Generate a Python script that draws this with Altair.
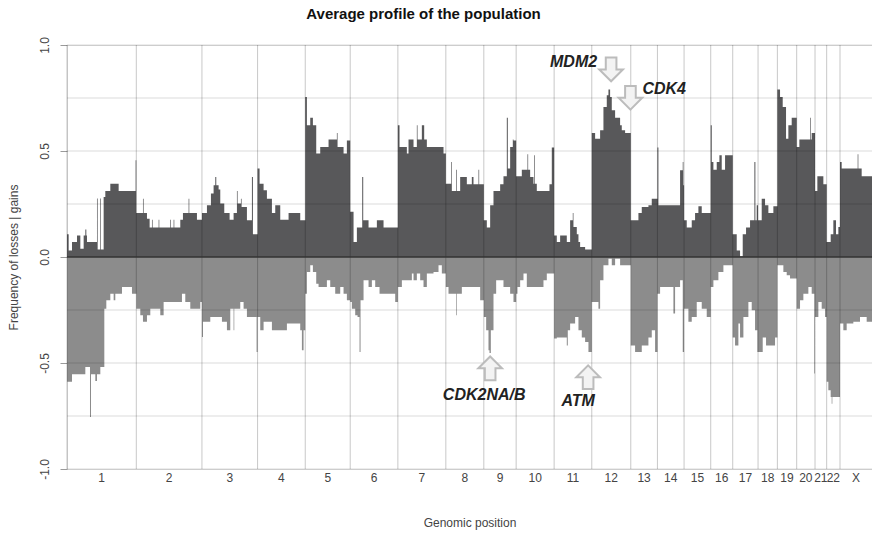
import altair as alt
import pandas as pd

# Chromosomes along the genome axis; lengths are in position bins
CHROMS = ["1", "2", "3", "4", "5", "6", "7", "8", "9", "10", "11", "12",
          "13", "14", "15", "16", "17", "18", "19", "20", "21", "22", "X"]
CHROM_LEN = [208, 197, 167, 143, 135, 143, 144, 114, 97, 114, 113, 117,
             80, 80, 80, 66, 76, 58, 58, 55, 35, 40, 96]

# Gain frequency profiles: (bin offset within chromosome, frequency) steps
GAIN_1 = [(0, 0.107), (5, 0.031), (15, 0.071), (30, 0.102), (40, 0.039), (50, 0.102),
          (55, 0.13), (58, 0.102), (60, 0.071), (90, 0.276), (92, 0.035), (100, 0.276),
          (102, 0.035), (110, 0.283), (115, 0.311), (130, 0.346), (155, 0.311), (206, 0.456)]
GAIN_2 = [(0, 0.208), (20, 0.275), (22, 0.208), (32, 0.181), (40, 0.139), (47, 0.176),
          (49, 0.139), (67, 0.176), (69, 0.139), (102, 0.176), (104, 0.139), (112, 0.176),
          (114, 0.139), (132, 0.176), (140, 0.208), (157, 0.275), (159, 0.208), (182, 0.176)]
GAIN_3 = [(0, 0.208), (15, 0.244), (27, 0.299), (35, 0.338), (40, 0.377), (43, 0.338),
          (50, 0.318), (55, 0.252), (67, 0.208), (83, 0.176), (95, 0.208), (105, 0.311),
          (107, 0.252), (117, 0.275), (119, 0.236), (135, 0.173), (150, 0.377), (153, 0.107)]
GAIN_4 = [(0, 0.417), (6, 0.346), (18, 0.315), (28, 0.275), (43, 0.208), (53, 0.244),
          (68, 0.176), (93, 0.208), (128, 0.173)]
GAIN_5 = [(0, 0.755), (5, 0.621), (15, 0.657), (23, 0.621), (33, 0.488), (45, 0.519),
          (70, 0.554), (95, 0.585), (97, 0.519), (115, 0.488), (125, 0.55)]
GAIN_6 = [(0, 0.213), (10, 0.071), (20, 0.139), (36, 0.377), (39, 0.173), (55, 0.139),
          (80, 0.173), (100, 0.139)]
GAIN_7 = [(0, 0.621), (5, 0.519), (27, 0.488), (32, 0.554), (47, 0.519), (57, 0.621),
          (59, 0.554), (72, 0.621), (79, 0.554), (87, 0.519), (137, 0.488)]
GAIN_8 = [(0, 0.346), (16, 0.448), (18, 0.311), (31, 0.412), (33, 0.311), (43, 0.377),
          (63, 0.343), (78, 0.377), (83, 0.343), (98, 0.412), (100, 0.343)]
GAIN_9 = [(0, 0.173), (9, 0.139), (19, 0.244), (29, 0.311), (49, 0.343), (59, 0.381),
          (69, 0.657), (72, 0.417), (79, 0.519), (87, 0.554), (89, 0.55)]
GAIN_10 = [(0, 0.381), (17, 0.412), (34, 0.485), (36, 0.412), (42, 0.377), (52, 0.346),
           (54, 0.48), (56, 0.346), (62, 0.311), (100, 0.343), (107, 0.516)]
GAIN_11 = [(0, 0.102), (8, 0.071), (18, 0.102), (38, 0.071), (48, 0.173), (56, 0.208),
           (58, 0.142), (68, 0.107), (73, 0.071), (78, 0.047), (93, 0.035)]
GAIN_12 = [(0, 0.585), (10, 0.558), (25, 0.598), (35, 0.708), (45, 0.763), (50, 0.79),
           (55, 0.755), (60, 0.692), (70, 0.657), (85, 0.621), (90, 0.598), (100, 0.585)]
GAIN_13 = [(0, 0.173), (23, 0.208), (33, 0.236), (53, 0.244), (63, 0.275)]
GAIN_14 = [(0, 0.516), (3, 0.244), (68, 0.409), (76, 0.448), (78, 0.338)]
GAIN_15 = [(0, 0.173), (8, 0.139), (23, 0.173), (33, 0.208), (43, 0.239), (53, 0.208)]
GAIN_16 = [(0, 0.621), (3, 0.448), (8, 0.412), (18, 0.448), (26, 0.48), (33, 0.412), (43, 0.48)]
GAIN_17 = [(0, 0.107), (12, 0.031), (22, 0.003), (30, 0.107), (40, 0.139), (52, 0.173),
           (65, 0.448), (68, 0.173), (72, 0.244)]
GAIN_18 = [(0, 0.173), (11, 0.275), (21, 0.244), (31, 0.208), (46, 0.239)]
GAIN_19 = [(0, 0.79), (8, 0.755), (16, 0.708), (26, 0.558), (33, 0.621), (43, 0.657)]
GAIN_20 = [(0, 0.519), (8, 0.554), (40, 0.657), (42, 0.554), (45, 0.585)]
GAIN_21 = [(0, 0.311), (7, 0.381), (25, 0.343)]
GAIN_22 = [(0, 0.071), (12, 0.107), (20, 0.173), (28, 0.107), (35, 0.142)]
GAIN_X = [(0, 0.448), (5, 0.417), (53, 0.485), (55, 0.417), (65, 0.381)]

# Loss frequency profiles (negative values)
LOSS_1 = [(0, -0.589), (15, -0.553), (55, -0.519), (69, -0.755), (72, -0.553), (85, -0.585),
          (90, -0.553), (100, -0.519), (112, -0.244), (118, -0.204), (130, -0.173),
          (140, -0.204), (145, -0.173), (165, -0.141), (195, -0.173)]
LOSS_2 = [(0, -0.244), (12, -0.275), (20, -0.306), (32, -0.275), (42, -0.244), (72, -0.275),
          (82, -0.212), (137, -0.173), (147, -0.212), (162, -0.244), (192, -0.212)]
LOSS_3 = [(0, -0.377), (3, -0.306), (25, -0.283), (60, -0.306), (75, -0.346), (85, -0.244),
          (95, -0.346), (97, -0.244), (115, -0.212), (125, -0.244), (135, -0.283), (164, -0.448)]
LOSS_4 = [(0, -0.283), (8, -0.346), (18, -0.306), (43, -0.346), (88, -0.314), (128, -0.346),
          (133, -0.44), (138, -0.346)]
LOSS_5 = [(0, -0.173), (5, -0.071), (15, -0.039), (23, -0.071), (33, -0.126), (40, -0.141),
          (65, -0.11), (75, -0.141), (90, -0.173), (105, -0.141), (115, -0.173), (125, -0.204)]
LOSS_6 = [(0, -0.212), (5, -0.244), (15, -0.275), (22, -0.283), (28, -0.448), (31, -0.204),
          (40, -0.11), (55, -0.141), (65, -0.11), (75, -0.141), (88, -0.173), (135, -0.212)]
LOSS_7 = [(0, -0.141), (12, -0.11), (42, -0.078), (47, -0.11), (57, -0.078), (67, -0.11),
          (77, -0.141), (87, -0.078), (107, -0.071), (122, -0.039), (132, -0.078)]
LOSS_8 = [(0, -0.141), (8, -0.173), (31, -0.275), (33, -0.173), (48, -0.141), (103, -0.204)]
LOSS_9 = [(0, -0.283), (7, -0.346), (14, -0.44), (17, -0.453), (21, -0.346), (29, -0.173),
          (37, -0.11), (59, -0.141), (79, -0.173), (89, -0.212)]
LOSS_10 = [(0, -0.173), (4, -0.141), (12, -0.11), (22, -0.078), (32, -0.141), (82, -0.11),
           (92, -0.078)]
LOSS_11 = [(0, -0.385), (8, -0.38), (38, -0.417), (41, -0.346), (48, -0.314), (63, -0.283),
           (73, -0.346), (83, -0.38), (93, -0.401), (103, -0.448)]
LOSS_12 = [(0, -0.212), (20, -0.244), (25, -0.11), (35, -0.039), (50, -0.008), (60, -0.039),
           (70, -0.008), (85, -0.039)]
LOSS_13 = [(0, -0.417), (13, -0.448), (33, -0.417), (53, -0.38), (63, -0.346), (73, -0.448)]
LOSS_14 = [(0, -0.173), (8, -0.141), (48, -0.267), (53, -0.141), (68, -0.11), (76, -0.448)]
LOSS_15 = [(0, -0.244), (13, -0.306), (23, -0.283), (38, -0.212), (53, -0.244), (68, -0.283)]
LOSS_16 = [(0, -0.141), (8, -0.11), (23, -0.071), (38, -0.039)]
LOSS_17 = [(0, -0.38), (7, -0.417), (17, -0.314), (22, -0.38), (32, -0.283), (47, -0.212),
           (57, -0.251), (67, -0.346), (74, -0.448)]
LOSS_18 = [(0, -0.448), (14, -0.38), (24, -0.417), (51, -0.38)]
LOSS_19 = [(0, -0.039), (18, -0.071), (28, -0.086), (38, -0.102)]
LOSS_20 = [(0, -0.244), (10, -0.204), (20, -0.173), (35, -0.141), (45, -0.173), (53, -0.55)]
LOSS_21 = [(0, -0.283), (10, -0.212), (20, -0.244), (30, -0.283)]
LOSS_22 = [(0, -0.589), (5, -0.629), (12, -0.66), (15, -0.692), (17, -0.66)]
LOSS_X = [(0, -0.314), (10, -0.346), (20, -0.314), (40, -0.306), (60, -0.283), (80, -0.306)]

GAINS = [GAIN_1, GAIN_2, GAIN_3, GAIN_4, GAIN_5, GAIN_6, GAIN_7, GAIN_8, GAIN_9, GAIN_10,
         GAIN_11, GAIN_12, GAIN_13, GAIN_14, GAIN_15, GAIN_16, GAIN_17, GAIN_18, GAIN_19,
         GAIN_20, GAIN_21, GAIN_22, GAIN_X]
LOSSES = [LOSS_1, LOSS_2, LOSS_3, LOSS_4, LOSS_5, LOSS_6, LOSS_7, LOSS_8, LOSS_9, LOSS_10,
          LOSS_11, LOSS_12, LOSS_13, LOSS_14, LOSS_15, LOSS_16, LOSS_17, LOSS_18, LOSS_19,
          LOSS_20, LOSS_21, LOSS_22, LOSS_X]

# Annotated genes: chromosome, bin offset, arrow direction
GENE_NAMES = ["MDM2", "CDK4", "CDK2NA/B", "ATM"]
GENE_CHROM = ["12", "12", "9", "11"]
GENE_BIN = [58, 116, 19, 102]
GENE_ARROW_Y = [0.885, 0.751, -0.525, -0.567]
GENE_DOWN = [True, True, False, False]

FONT = "Liberation Sans"

offsets = []
acc = 0
for n in CHROM_LEN:
    offsets.append(acc)
    acc += n
total = acc
chrom_off = dict(zip(CHROMS, offsets))


def profile(series):
    rows = []
    for off, steps in zip(offsets, series):
        for p, v in steps:
            rows.append({"pos": off + p, "freq": v})
    rows.append({"pos": total, "freq": series[-1][-1][1]})
    return pd.DataFrame(rows)


gain_df = profile(GAINS)
loss_df = profile(LOSSES)

bounds_df = pd.DataFrame({"pos": offsets})
grid_df = pd.DataFrame({"freq": [-1.0, -0.75, -0.5, -0.25, 0.25, 0.5, 0.75, 1.0]})
zero_df = pd.DataFrame({"freq": [0.0]})
labels_df = pd.DataFrame({
    "pos": [o + n / 2 for o, n in zip(offsets, CHROM_LEN)],
    "freq": [-1.0] * len(CHROMS),
    "name": CHROMS,
})

xscale = alt.Scale(domain=[0, total], nice=False, zero=False)
yscale = alt.Scale(domain=[-1, 1], nice=False)
xaxis = alt.Axis(labels=False, ticks=False, domain=False, grid=False,
                 title="Genomic position", titleFont=FONT, titleFontSize=12,
                 titleFontWeight="normal", titleColor="#444",
                 titleBaseline="alphabetic", titleY=57)
yaxis = alt.Axis(values=[-1, -0.5, 0, 0.5, 1], grid=False, domain=False,
                 labelExpr="replace(format(datum.value, '.1f'), '\u2212', '-')",
                 tickSize=7, tickColor="#9a9a9a", labelAngle=-90, labelAlign="center",
                 labelBaseline="bottom", labelPadding=9, labelFont=FONT, labelFontSize=12,
                 labelColor="#444", title="Frequency of losses | gains", titleFont=FONT,
                 titleFontSize=12, titleFontWeight="normal", titleColor="#444",
                 titlePadding=18)

X = alt.X("pos:Q", scale=xscale, axis=xaxis)
Y = alt.Y("freq:Q", scale=yscale, axis=yaxis)

gains = alt.Chart(gain_df).mark_area(interpolate="step-after", color="#58585a").encode(x=X, y=Y)
losses = alt.Chart(loss_df).mark_area(interpolate="step-after", color="#8c8c8c").encode(x=X, y=Y)

hgrid = alt.Chart(grid_df).mark_rule(color="#000000", opacity=0.14, strokeWidth=1).encode(y=Y)
vgrid = alt.Chart(bounds_df).mark_rule(color="#000000", opacity=0.22, strokeWidth=1).encode(x=X)
zero = alt.Chart(zero_df).mark_rule(color="#333333", strokeWidth=1.5).encode(y=Y)

chrom_labels = alt.Chart(labels_df).mark_text(
    font=FONT, fontSize=12, color="#444", baseline="top", dy=4
).encode(x=X, y=Y, text="name:N")

DOWN_ARROW = "M -0.45 -1 L 0.45 -1 L 0.45 0 L 1 0 L 0 1 L -1 0 L -0.45 0 Z"
UP_ARROW = "M -0.45 1 L 0.45 1 L 0.45 0 L 1 0 L 0 -1 L -1 0 L -0.45 0 Z"

# per-label placement relative to its arrow: (align, dx, dy)
label_style = {
    "MDM2": ("right", -14, -7),
    "CDK4": ("left", 12, -9),
    "CDK2NA/B": ("center", -6, 27),
    "ATM": ("center", -10, 24),
}

annot_layers = []
for name, ch, b, ay, down in zip(GENE_NAMES, GENE_CHROM, GENE_BIN, GENE_ARROW_Y, GENE_DOWN):
    gdf = pd.DataFrame({"pos": [chrom_off[ch] + b], "freq": [ay], "gene": [name]})
    arrow = alt.Chart(gdf).mark_point(
        shape=DOWN_ARROW if down else UP_ARROW, size=560, filled=True,
        fill="#f3f3f3", stroke="#bcbcbc", strokeWidth=2, opacity=1
    ).encode(x=X, y=Y)
    align, dx, dy = label_style[name]
    label = alt.Chart(gdf).mark_text(
        font=FONT, fontSize=16, fontWeight="bold", fontStyle="italic", color="#222",
        align=align, baseline="middle", dx=dx, dy=dy
    ).encode(x=X, y=Y, text="gene:N")
    annot_layers += [arrow, label]

chart = alt.layer(
    gains, losses, hgrid, vgrid, zero, chrom_labels, *annot_layers
).properties(
    width=805, height=424,
    title=alt.TitleParams("Average profile of the population", font=FONT, fontSize=15,
                          fontWeight="bold", color="#111", anchor="middle", dx=-46,
                          offset=15),
    autosize=alt.AutoSizeParams(type="none"),
    padding={"left": 67, "top": 45, "right": 0, "bottom": 64},
).configure_view(stroke=None).configure(background="white")

chart.save("out.html", embed_options={"renderer": "svg", "actions": False})
